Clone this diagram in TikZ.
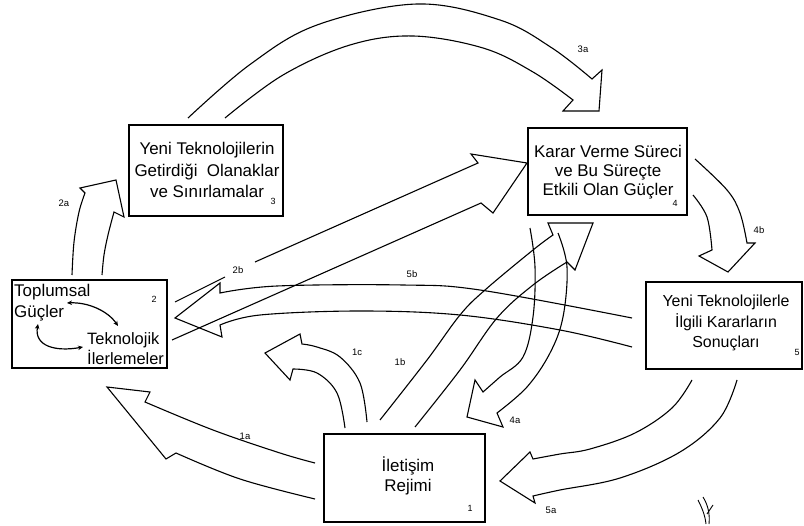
\documentclass[tikz,border=0pt]{standalone}
\usepackage{fontspec}
\setmainfont{Liberation Sans}
\usetikzlibrary{arrows.meta}
\tikzset{
  box/.style={draw, line width=1.7bp, inner sep=0pt, outer sep=0pt},
  blk/.style={draw, line width=1.1bp, line join=miter},
  txt/.style={inner sep=0pt, align=center},
  num/.style={inner sep=0pt, font=\fontsize{9}{10}\selectfont},
  lbl/.style={inner sep=0pt, font=\fontsize{9.5}{10}\selectfont},
  dbl/.style={line width=1.2bp, {Stealth[length=5bp,width=4.5bp]}-{Stealth[length=5bp,width=4.5bp]}},
  sm/.style={smooth, tension=0.6}
}
\begin{document}
\begin{tikzpicture}[x=1bp, y=-1bp]
\useasboundingbox (0,0) rectangle (804,526);

% boxes
\node[box, minimum width=154bp, minimum height=91bp] (b3) at (206,170.5) {};
\node[box, minimum width=159bp, minimum height=87bp] (b4) at (607.5,171.5) {};
\node[box, minimum width=155bp, minimum height=88bp] (b2) at (89.5,324) {};
\node[box, minimum width=156bp, minimum height=87bp] (b5) at (724,325.5) {};
\node[box, minimum width=161bp, minimum height=88bp] (b1) at (404.5,478) {};

% texts
\node[txt, font=\fontsize{17}{22}\selectfont] (t3) at (207,170) {Yeni Teknolojilerin\\Getirdiği\ \ Olanaklar\\ve Sınırlamalar};
\node[txt, font=\fontsize{17}{19}\selectfont] (t4) at (608,172) {Karar Verme Süreci\\ve Bu Süreçte\\Etkili Olan Güçler};
\node[txt, font=\fontsize{16}{20.5}\selectfont] (t5) at (726,323) {Yeni Teknolojilerle\\İlgili Kararların\\Sonuçları};
\node[txt, font=\fontsize{17}{20}\selectfont] (t1) at (408,476) {İletişim\\Rejimi};
\node[txt, align=left, anchor=west, font=\fontsize{17}{21}\selectfont] (t2a) at (14,303) {Toplumsal\\Güçler};
\node[txt, align=left, anchor=west, font=\fontsize{16.5}{20}\selectfont] (t2b) at (87,349) {Teknolojik\\İlerlemeler};

% box numbers
\node[num] (n3) at (273,201) {3};
\node[num] (n4) at (675,203) {4};
\node[num] (n2) at (154,299) {2};
\node[num] (n5) at (797,352) {5};
\node[num] (n1) at (470,508) {1};

% arrows inside box 2
\coordinate (g1) at (67,303);
\coordinate (k1) at (118,326);
\coordinate (g2) at (38,324);
\coordinate (k2) at (83,347);
\draw[dbl] (g1) .. controls (88,302) and (108,311) .. (k1);
\draw[dbl] (g2) .. controls (34,346) and (55,352) .. (k2);

% 3a
\draw[blk] plot[sm] coordinates {(188,118) (250,64.5) (317,25) (417,4) (500,20) (552,48) (592,79)}
  -- (602,70) -- (599,111) -- (563,111) -- (573,100)
  -- plot[sm] coordinates {(573,100) (533,72) (483,48) (413,36) (350,45) (283,75) (225,118)};

% 2a
\draw[blk] plot[sm] coordinates {(72,275) (74,242) (79,212) (85,193)}
  -- (80,188) -- (116,180) -- (124,217) -- (114,212)
  -- plot[sm] coordinates {(114,212) (108,235) (104,255) (102,275)};

% 2b
\draw[blk] (175,302) -- (225,277);
\draw[blk] (255,262) -- (478,163) -- (471,154) -- (527,163) -- (493,213) -- (481,203) -- (172,340);

% 5b
\draw[blk] plot[sm] coordinates {(632,318) (480,290) (403,285) (277,286) (220,293)}
  -- (220,283) -- (175,318) -- (222,337) -- (220,325)
  -- plot[sm] coordinates {(220,325) (260,315) (360,311) (460,315) (560,330) (632,347)};

% 1a
\draw[blk] plot[sm] coordinates {(315,463) (280,453) (213,430) (145,402)}
  -- (150,392) -- (107,387) -- (166,459) -- (176,453)
  -- plot[sm] coordinates {(176,453) (240,479) (315,499)};

% 1c
\draw[blk] plot[sm] coordinates {(367,422) (360,383) (340,357) (317,347) (302,344)}
  -- (300,334) -- (265,353) -- (290,380) -- (293,369)
  -- plot[sm] coordinates {(293,369) (317,373) (337,393) (345,428)};

% 1b
\draw[blk] plot[sm] coordinates {(380,420) (427,360) (460,315) (485,290) (533,250) (553,235)}
  -- (548,223) -- (593,223) -- (575,270) -- (567,262)
  -- plot[sm] coordinates {(567,262) (533,285) (497,318) (460,370) (415,427)};

% 4a
\draw[blk] plot[sm] coordinates {(530,228) (535,267) (533,317) (523,357) (500,377) (483,392)}
  -- (475,380) -- (467,417) -- (503,427) -- (497,413)
  -- plot[sm] coordinates {(497,413) (527,387) (550,353) (563,317) (567,267) (558,233)};

% 4b
\draw[blk] plot[sm] coordinates {(695,159) (727,190) (740,213) (747,243)}
  -- (755,243) -- (728,272) -- (699,256) -- (712,250)
  -- plot[sm] coordinates {(712,250) (707,217) (693,195)};

% 5a
\draw[blk] plot[sm] coordinates {(692,380) (672,408) (635,433) (590,449) (560,454) (533,459)}
  -- (530,452) -- (500,481) -- (535,503) -- (533,496)
  -- plot[sm] coordinates {(533,496) (560,490) (620,478) (680,452) (720,418) (737,380)};

% arrow labels
\node[lbl] (l3a) at (583,49) {3a};
\node[lbl] (l2a) at (64,203) {2a};
\node[lbl] (l2b) at (238,270) {2b};
\node[lbl] (l5b) at (412,274) {5b};
\node[lbl] (l4b) at (759,230) {4b};
\node[lbl] (l1c) at (357,352) {1c};
\node[lbl] (l1b) at (400,362) {1b};
\node[lbl] (l1a) at (245,436) {1a};
\node[lbl] (l4a) at (515,420) {4a};
\node[lbl] (l5a) at (551,510) {5a};

% pen mark
\draw[line width=0.9bp] (698,500) .. controls (702,508) and (705,515) .. (706,524);
\draw[line width=0.9bp] (703,497) .. controls (708,505) and (710,514) .. (709,524);
\draw[line width=0.9bp] (707,514) -- (713,505);
\end{tikzpicture}
\end{document}
